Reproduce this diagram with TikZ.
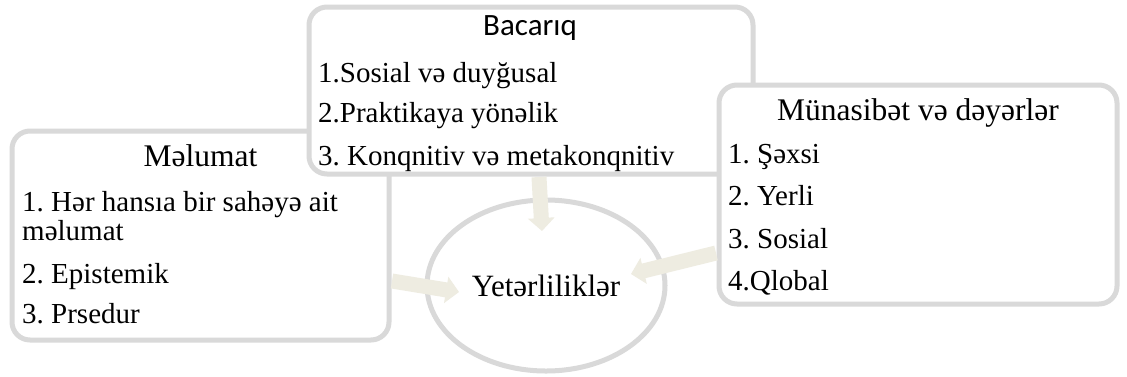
\documentclass[tikz,border=0pt]{standalone}
\usepackage{fontspec}
\setmainfont{Liberation Serif}
\newfontfamily\calibrifont{Carlito}
\usetikzlibrary{arrows.meta,shapes.geometric}
\definecolor{bordergray}{HTML}{D9D9D9}
\definecolor{arrowtan}{HTML}{EEECE1}
\frenchspacing
\begin{document}
\begin{tikzpicture}[x=1pt,y=-1pt,
 box/.style={draw=bordergray, line width=5pt, rounded corners=18pt, fill=white, inner sep=0pt},
 ttl/.style={font=\fontsize{31.5}{36}\selectfont, anchor=base, inner sep=0pt},
 itm/.style={font=\fontsize{29}{33}\selectfont, anchor=base west, inner sep=0pt},
 arr/.style={draw=arrowtan, line width=15pt, -{Triangle[width=26pt,length=13pt]}}]
\useasboundingbox (0,0) rectangle (1127,376);
\fill[white] (0,0) rectangle (1127,376);
% boxes (stacking order matters)
\node[box, minimum width=377pt, minimum height=209pt] (mal) at (200.5,235.5) {};
\node[box, minimum width=444pt, minimum height=167pt] (bac) at (531,90.5) {};
\node[box, minimum width=398pt, minimum height=219pt] (mun) at (918,194.5) {};
\node[draw=bordergray, line width=5pt, ellipse, minimum width=238pt, minimum height=171pt, inner sep=0pt, font=\fontsize{31}{36}\selectfont] (yet) at (546,285.5) {Yetərliliklər};
% arrows
\coordinate (bS) at (539,177);
\coordinate (bT) at (542,231);
\coordinate (mS) at (392,281);
\coordinate (mT) at (459,292);
\coordinate (uS) at (716,253);
\coordinate (uT) at (631,274);
\draw[arr] (bS) -- (bT);
\draw[arr] (mS) -- (mT);
\draw[arr] (uS) -- (uT);
% texts
\node[ttl] (malT) at (200.5,166) {Məlumat};
\node[itm] (mal1) at (22,211) {1. Hər hansıa bir sahəyə ait};
\node[itm] (mal1b) at (22,240) {məlumat};
\node[itm] (mal2) at (22,283) {2. Epistemik};
\node[itm] (mal3) at (22,323) {3. Prsedur};
\node[ttl, font=\calibrifont\fontsize{31}{36}\selectfont] (bacT) at (530,35) {Bacarıq};
\node[itm] (bac1) at (318,82) {1.Sosial və duyğusal};
\node[itm] (bac2) at (318,122) {2.Praktikaya yönəlik};
\node[itm] (bac3) at (318,165) {3. Konqnitiv və metakonqnitiv};
\node[ttl] (munT) at (918,120) {Münasibət və dəyərlər};
\node[itm] (mun1) at (728,163) {1. Şəxsi};
\node[itm] (mun2) at (728,205) {2. Yerli};
\node[itm] (mun3) at (728,248) {3. Sosial};
\node[itm] (mun4) at (728,290) {4.Qlobal};
\end{tikzpicture}
\end{document}
